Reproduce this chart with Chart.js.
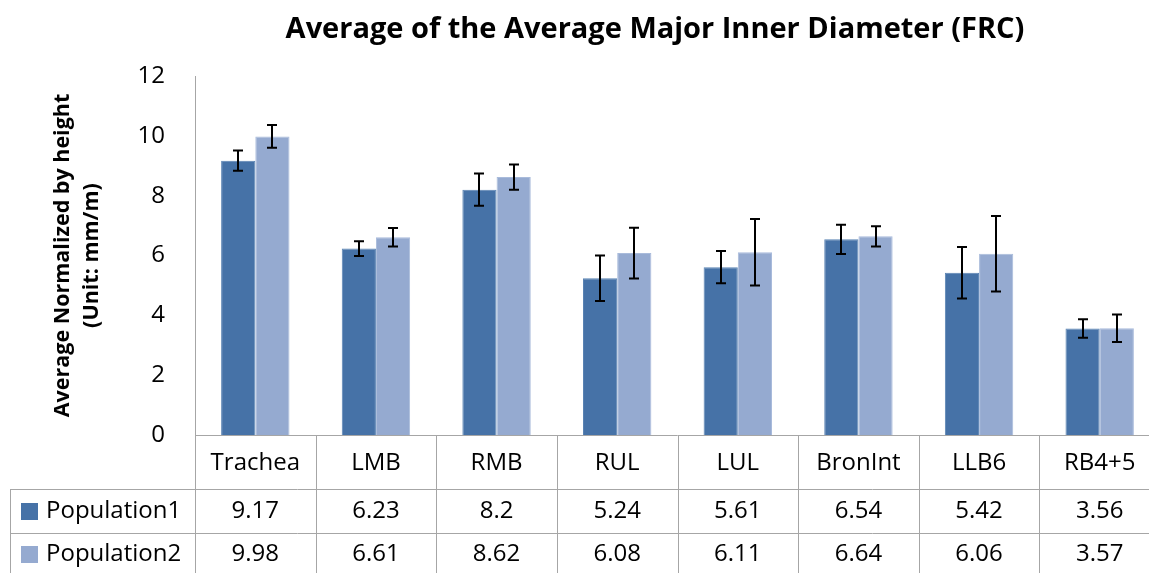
<!DOCTYPE html>
<html>
<head>
<meta charset="utf-8">
<script src="https://cdn.jsdelivr.net/npm/chart.js@4.4.0/dist/chart.umd.min.js"></script>
<style>
  html, body { margin: 0; padding: 0; background: #fff; overflow: hidden; }
  #wrap { width: 1166px; height: 573px; }
</style>
</head>
<body>
<div id="wrap"><canvas id="myChart" width="1166" height="573"></canvas></div>
<script>
const categories = ['Trachea', 'LMB', 'RMB', 'RUL', 'LUL', 'BronInt', 'LLB6', 'RB4+5']
const population1 = [9.17, 6.23, 8.2, 5.24, 5.61, 6.54, 5.42, 3.56]
const population2 = [9.98, 6.61, 8.62, 6.08, 6.11, 6.64, 6.06, 3.57]
// error bar half heights
const population1Err = [0.34, 0.25, 0.54, 0.76, 0.54, 0.49, 0.86, 0.31]
const population2Err = [0.38, 0.31, 0.42, 0.85, 1.11, 0.34, 1.26, 0.46]
const seriesNames = ['Population1', 'Population2']
const seriesColors = ['#4672A7', '#95AAD0']
const yTicks = [0, 2, 4, 6, 8, 10, 12]

const FONT = "'Open Sans', sans-serif"
const lineColor = '#a6a6a6'

// title drawn by hand, it is not centred on the canvas
const titlePlugin = {
  id: 'titleText',
  afterDraw(chart) {
    const ctx = chart.ctx
    ctx.save()
    ctx.font = 'bold 29px ' + FONT
    ctx.fillStyle = '#000'
    ctx.textAlign = 'center'
    ctx.textBaseline = 'middle'
    ctx.fillText('Average of the Average Major Inner Diameter (FRC)', 655, 30)
    ctx.restore()
  }
}

const errorBars = {
  id: 'errorBars',
  afterDatasetsDraw(chart) {
    const ctx = chart.ctx
    const y = chart.scales.y
    ctx.save()
    ctx.strokeStyle = '#000'
    ctx.lineWidth = 2
    chart.data.datasets.forEach((ds, i) => {
      const meta = chart.getDatasetMeta(i)
      meta.data.forEach((bar, j) => {
        const v = ds.data[j]
        const e = ds.errors[j]
        const top = y.getPixelForValue(v + e)
        const bottom = y.getPixelForValue(v - e)
        const x = Math.round(bar.x)
        ctx.beginPath()
        ctx.moveTo(x, top)
        ctx.lineTo(x, bottom)
        ctx.moveTo(x - 5, top)
        ctx.lineTo(x + 5, top)
        ctx.moveTo(x - 5, bottom)
        ctx.lineTo(x + 5, bottom)
        ctx.stroke()
      })
    })
    ctx.restore()
  }
}

// data table under the plot
const dataTable = {
  id: 'dataTable',
  afterDraw(chart) {
    const ctx = chart.ctx
    const area = chart.chartArea
    const x = chart.scales.x
    const n = categories.length
    const step = (area.right - area.left) / n
    const top = area.bottom
    const row1 = top + 54
    const row2 = row1 + 44
    const end = chart.height
    const tableLeft = 10
    const px = (v) => Math.round(v) + 0.5

    ctx.save()
    ctx.strokeStyle = lineColor
    ctx.lineWidth = 1
    ctx.beginPath()
    ctx.moveTo(area.left, px(top))
    ctx.lineTo(area.right, px(top))
    for (let i = 0; i <= n; i++) {
      const lx = px(area.left + i * step)
      ctx.moveTo(lx, i === 0 ? area.top : top)
      ctx.lineTo(lx, end)
    }
    ctx.moveTo(tableLeft, px(row1))
    ctx.lineTo(area.right, px(row1))
    ctx.moveTo(tableLeft, px(row2))
    ctx.lineTo(area.right, px(row2))
    ctx.moveTo(px(tableLeft), row1)
    ctx.lineTo(px(tableLeft), end)
    ctx.stroke()

    ctx.fillStyle = '#000'
    ctx.font = '24px ' + FONT
    ctx.textAlign = 'center'
    ctx.textBaseline = 'middle'
    const rows = [population1, population2]
    const rowMid = [row1 + 22, row2 + 21]
    categories.forEach((c, i) => {
      const cx = x.getPixelForValue(i)
      ctx.fillText(c, cx, top + 28)
      rows.forEach((r, k) => ctx.fillText(String(r[i]), cx, rowMid[k]))
    })

    ctx.textAlign = 'left'
    seriesNames.forEach((name, k) => {
      ctx.fillStyle = seriesColors[k]
      ctx.fillRect(21, rowMid[k] - 8, 17, 17)
      ctx.fillStyle = '#000'
      ctx.fillText(name, 46, rowMid[k])
    })
    ctx.restore()
  }
}

const ctx = document.getElementById('myChart').getContext('2d')
new Chart(ctx, {
  type: 'bar',
  data: {
    labels: categories,
    datasets: [
      {
        label: seriesNames[0],
        data: population1,
        errors: population1Err,
        backgroundColor: seriesColors[0],
        borderColor: '#5a83b3',
        borderWidth: 1,
      },
      {
        label: seriesNames[1],
        data: population2,
        errors: population2Err,
        backgroundColor: seriesColors[1],
        borderColor: '#a9bbdb',
        borderWidth: 1,
      },
    ],
  },
  options: {
    responsive: false,
    animation: false,
    devicePixelRatio: 1,
    layout: { padding: { top: 76, bottom: 138, left: 0, right: 6 } },
    plugins: {
      legend: { display: false },
      title: { display: false },
      tooltip: { enabled: false },
    },
    datasets: {
      bar: { categoryPercentage: 0.567, barPercentage: 1 },
    },
    scales: {
      x: { display: false },
      y: {
        min: 0,
        max: 12,
        afterBuildTicks: (axis) => {
          axis.ticks = yTicks.map((v) => ({ value: v }))
        },
        afterFit: (scale) => {
          scale.width = 195
        },
        grid: { display: false, drawTicks: false },
        border: { display: true, color: lineColor, width: 1 },
        ticks: {
          padding: 30,
          color: '#000',
          font: { family: FONT, size: 24 },
        },
        title: {
          display: true,
          text: ['Average Normalized by height', '(Unit: mm/m)'],
          color: '#000',
          font: { family: FONT, size: 21.5, weight: 'bold', lineHeight: 1.35 },
          padding: { top: 48, bottom: 0 },
        },
      },
    },
  },
  plugins: [titlePlugin, errorBars, dataTable],
})
</script>
</body>
</html>
